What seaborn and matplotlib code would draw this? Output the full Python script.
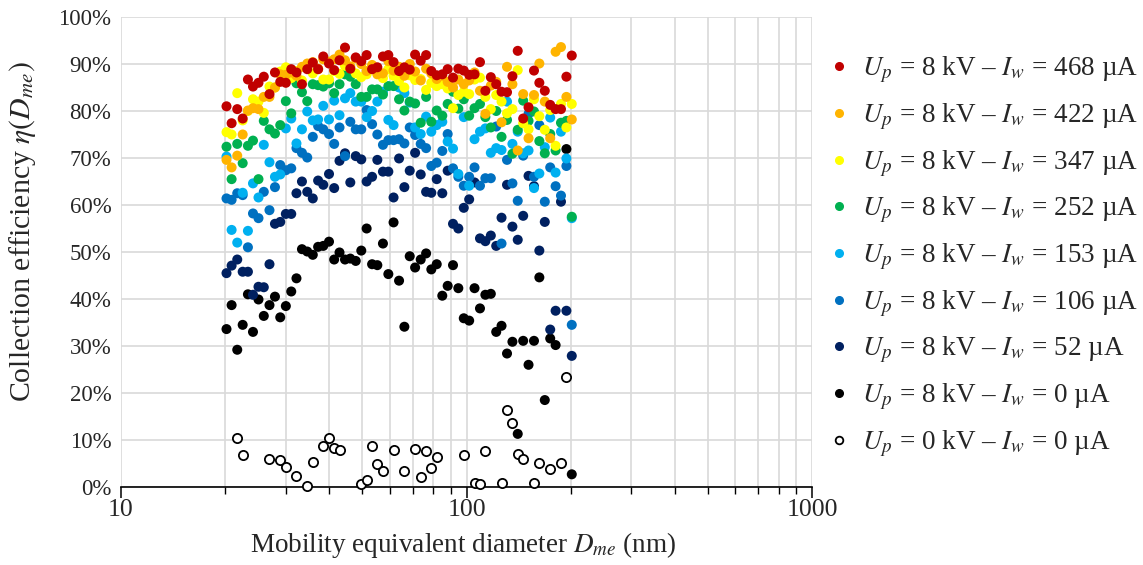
import numpy as np
import pandas as pd
import seaborn as sns
import matplotlib
matplotlib.use("Agg")
import matplotlib.pyplot as plt
from matplotlib.lines import Line2D
from matplotlib.ticker import LogLocator, NullFormatter, FixedLocator, FixedFormatter

nan = np.nan

# Mobility equivalent diameter bins (nm)
diameters = [20.2, 20.9, 21.7, 22.5, 23.3, 24.1, 25.0, 25.9, 26.9, 27.9, 28.9, 30.0, 31.1, 32.2, 33.4,
             34.6, 35.9, 37.2, 38.5, 40.0, 41.4, 42.9, 44.5, 46.1, 47.8, 49.6, 51.4, 53.3, 55.2, 57.3,
             59.4, 61.5, 63.8, 66.1, 68.5, 71.0, 73.7, 76.4, 79.1, 82.0, 85.1, 88.2, 91.4, 94.7, 98.2,
             101.8, 105.5, 109.4, 113.4, 117.6, 121.9, 126.3, 131.0, 135.8, 140.7, 145.9, 151.2, 156.8,
             162.5, 168.5, 174.7, 181.1, 187.7, 194.6, 201.7]

eta_468 = [81.0, 77.4, 80.4, 78.4, 86.7, 85.2, 86.0, 87.3, 83.6, 88.2, 86.2, 86.0, 88.9, 88.2, 85.7, 88.9, 90.3, 88.9, 91.6,
           90.1, 88.7, 90.8, 93.5, 89.0, 91.4, 90.6, 91.9, 88.9, 89.3, 91.6, 91.9, 90.4, 88.5, 89.3, 88.8, 92.0, 90.7, 91.9, 88.5, 87.6, 87.8, 88.9, 87.1, 89.0,
           88.6, 87.7, 87.8, 90.4, 84.3, 87.2, 85.7, 84.1, 84.0, 87.4, 92.8, 78.4, 80.8, 88.6, 86.0, 84.3, 81.3, 80.4, 80.4, 87.3, 91.8]
eta_422 = [69.6, 68.0, 70.5, 75.0, 80.1, 80.6, 80.4, 83.0, 83.0, 85.0, 87.8, 87.7, 88.2, 87.5, 89.4, 90.1, 90.4, 89.0, 91.0,
           90.5, 91.0, 92.0, 90.8, 89.5, 91.2, 90.0, 88.5, 89.8, 87.8, 88.0, 90.6, 88.6, 89.4, 87.5, 90.0, 88.4, 86.5, 89.0, 88.0, 86.8, 87.5, 86.2, 85.0, 86.7,
           85.7, 86.5, 88.2, 84.3, 79.4, 85.4, 86.2, 77.6, 89.4, 85.7, 71.6, 83.6, 74.2, 83.4, 90.1, 82.0, 74.2, 92.6, 93.6, 83.0, 78.2]
eta_347 = [75.5, 75.0, 83.8, 78.0, 80.0, 82.5, 82.0, 79.6, 85.2, 85.0, 88.4, 89.3, 87.0, 88.5, 86.5, 89.5, 88.0, 88.9, 86.7,
           86.7, 88.5, 87.9, 89.6, 89.1, 88.0, 87.2, 87.8, 89.4, 88.6, 87.0, 88.9, 87.5, 86.4, 85.0, 87.6, 86.6, 86.8, 84.5, 86.0, 85.3, 85.7, 84.8, 80.6, 83.4,
           84.1, 83.6, 86.7, 87.1, 83.0, 80.4, 83.4, 82.0, 79.5, 80.4, 88.7, 77.4, 76.1, 82.5, 78.9, 76.0, 80.2, 72.6, 81.5, 76.5, 81.5]
eta_252 = [72.4, 65.5, 73.0, 68.9, 72.6, 73.7, 65.5, 77.9, 76.1, 75.2, 77.0, 82.1, 79.5, 85.9, 84.0, 82.1, 85.7, 85.5, 85.2,
           85.9, 83.8, 85.7, 87.8, 87.3, 85.7, 83.0, 83.0, 84.6, 84.6, 83.5, 85.3, 85.3, 82.5, 80.1, 82.0, 81.6, 77.5, 83.0, 77.7, 80.1, 79.0, 81.5, 84.1, 80.5,
           82.5, 79.0, 80.6, 81.5, 78.7, 76.5, 80.0, 74.5, 78.1, 70.9, 76.0, 82.2, 77.9, 79.9, 73.6, 71.0, 75.1, 71.6, 77.5, 77.9, 57.5]
eta_153 = [70.3, 54.7, 52.0, 62.6, 54.5, 64.6, 61.6, 72.8, 69.1, 66.0, 66.5, 76.3, 78.4, 73.1, 76.1, 79.9, 78.0, 78.2, 81.1,
           78.2, 82.2, 79.1, 82.7, 83.8, 82.0, 82.0, 78.7, 80.0, 82.0, 84.1, 78.1, 77.0, 85.0, 83.8, 81.8, 76.5, 75.1, 78.8, 75.6, 77.0, 77.7, 73.5, 72.0, 66.6,
           78.7, 64.1, 74.0, 75.6, 76.3, 71.1, 72.1, 71.7, 82.0, 73.0, 75.6, 71.0, 71.6, 63.6, 66.7, 72.3, 78.6, 66.9, 75.6, 69.9, 57.2]
eta_106 = [61.4, 61.1, 62.5, 62.1, 51.0, 58.2, 57.2, 62.8, 58.9, 63.8, 68.5, 67.4, 67.8, 72.1, 71.1, 70.1, 74.5, 76.8, 76.1,
           75.1, 73.0, 76.5, 70.4, 77.7, 76.1, 76.1, 80.2, 77.2, 75.0, 72.8, 73.8, 73.8, 74.0, 73.1, 76.5, 74.9, 73.0, 72.1, 68.3, 69.0, 71.5, 75.1, 67.8, 66.0,
           64.1, 66.0, 68.0, 64.1, 65.7, 65.7, 76.7, 51.8, 69.6, 64.6, 60.9, 70.5, 79.4, 66.0, 77.0, 60.7, 68.0, 64.0, 62.0, 68.3, 34.5]
eta_52 = [45.5, 47.1, 48.4, 45.8, 45.8, 40.9, 42.6, 42.5, 47.4, 56.0, 56.4, 58.1, 58.1, 62.5, 65.0, 62.8, 61.4, 65.2, 64.3,
          66.6, 63.6, 69.4, 71.0, 64.8, 70.4, 69.7, 65.0, 66.0, 69.6, 67.1, 67.1, 61.6, 69.9, 63.8, 67.3, 71.1, 66.5, 62.8, 62.6, 65.5, 62.5, 67.3, 56.0, 55.0,
          59.4, 61.2, 64.8, 52.9, 52.3, 53.5, 51.3, 57.3, 64.3, 55.4, 52.6, 57.7, 66.2, 64.0, 50.3, 56.4, 33.5, 37.5, 60.7, 37.5, 27.9]
eta_0 = [33.6, 38.7, 29.2, 34.5, 41.0, 33.0, 39.9, 36.4, 38.7, 40.5, 36.1, 38.5, 41.6, 44.4, 50.6, 50.1, 49.4, 51.1, 51.3,
         52.2, 48.4, 49.9, 48.4, 48.6, 48.1, 50.3, 55.0, 47.4, 47.2, 51.8, 45.3, 56.3, 43.9, 34.1, 49.1, 46.7, 48.4, 49.7, 46.3, 47.4, 40.7, 42.8, 47.2, 42.3,
         35.9, 35.4, 42.3, 38.0, 40.9, 41.1, 33.0, 34.3, 28.4, 30.9, 11.3, 31.1, 26.0, 31.1, 44.6, 18.5, 31.6, 30.2, nan, 71.9, 2.7]
eta_off = [nan, nan, 10.4, 6.8, nan, nan, nan, nan, 5.9, nan, 5.7, 4.3, nan, 2.4, nan, 0.3, 5.4, nan, 8.7,
           10.4, 8.2, 7.9, nan, nan, nan, 0.6, 1.5, 8.8, 4.8, 3.4, nan, 7.9, nan, 3.5, nan, 8.0, 2.2, 7.7, 4.0, 6.3, nan, nan, nan, nan,
           6.8, nan, 0.9, 0.6, 7.7, nan, nan, 0.9, 16.4, 13.7, 7.0, 5.9, nan, 0.8, 5.2, nan, 3.8, nan, 5.2, 23.3, nan]

labels = [r"$U_p$ = 8 kV – $I_w$ = 468 µA",
          r"$U_p$ = 8 kV – $I_w$ = 422 µA",
          r"$U_p$ = 8 kV – $I_w$ = 347 µA",
          r"$U_p$ = 8 kV – $I_w$ = 252 µA",
          r"$U_p$ = 8 kV – $I_w$ = 153 µA",
          r"$U_p$ = 8 kV – $I_w$ = 106 µA",
          r"$U_p$ = 8 kV – $I_w$ = 52 µA",
          r"$U_p$ = 8 kV – $I_w$ = 0 µA",
          r"$U_p$ = 0 kV – $I_w$ = 0 µA"]
colors = ["#C00000", "#FFB400", "#FFFF00", "#00B050", "#00B0F0", "#0070C0", "#002060", "#000000"]
filled_series = [eta_468, eta_422, eta_347, eta_252, eta_153, eta_106, eta_52, eta_0]

sns.set_theme(style="white")
plt.rcParams['font.family'] = ['Liberation Serif', 'DejaVu Serif']
plt.rcParams['mathtext.fontset'] = 'stix'

W, H = 1143, 565
fig = plt.figure(figsize=(W / 100, H / 100), dpi=100)
ax = fig.add_axes([121 / W, 1 - 487 / H, (812 - 121) / W, (487 - 17) / H])

# long table, drawn from lowest current to highest (highest on top)
frames = []
for lab, vals in zip(labels[:8][::-1], filled_series[::-1]):
    frames.append(pd.DataFrame({"D": diameters, "eta": vals, "series": lab}))
df = pd.concat(frames, ignore_index=True).dropna()

palette = dict(zip(labels[:8], colors))

sns.scatterplot(x=diameters, y=eta_off, ax=ax, s=44, facecolor="white",
                edgecolor="black", linewidth=1.3, legend=False, clip_on=False, zorder=3)
sns.scatterplot(data=df, x="D", y="eta", hue="series", palette=palette,
                hue_order=labels[:8][::-1], s=52, linewidth=0, legend=False,
                ax=ax, clip_on=False, zorder=4)

ax.set_xscale("log")
ax.set_xlim(10, 1000)
ax.set_ylim(0, 100)
ax.xaxis.set_major_locator(FixedLocator([10, 100, 1000]))
ax.xaxis.set_major_formatter(FixedFormatter(["10", "100", "1000"]))
ax.xaxis.set_minor_locator(LogLocator(base=10, subs=np.arange(2, 10)))
ax.xaxis.set_minor_formatter(NullFormatter())
yt = list(range(0, 101, 10))
ax.set_yticks(yt)
ax.set_yticklabels([f"{v}%" for v in yt])

ax.set_axisbelow(True)
ax.grid(True, which="major", axis="both", color="#D9D9D9", linewidth=1.2)
ax.grid(True, which="minor", axis="x", color="#D9D9D9", linewidth=1.2)

for s in ["left", "top", "right"]:
    ax.spines[s].set_visible(False)
ax.spines["bottom"].set_color("black")
ax.spines["bottom"].set_linewidth(1.2)
ax.spines["bottom"].set_zorder(2)

ax.tick_params(axis="x", which="major", direction="out", length=8, width=1.1, color="black",
               labelsize=18.5, pad=1, bottom=True)
ax.tick_params(axis="x", which="minor", direction="out", length=5, width=1.0, color="black", bottom=True)
ax.tick_params(axis="y", which="both", length=0, labelsize=16.5, pad=7)

ax.set_xlabel(r"Mobility equivalent diameter $D_{me}$ (nm)", fontsize=19.5)
ax.xaxis.label.set_va("center")
ax.xaxis.set_label_coords((463 - 121) / 691, (487 - 545) / 470)
ax.set_ylabel(r"Collection efficiency $\eta(D_{me})$", fontsize=21.5)
ax.yaxis.label.set_va("center")
ax.yaxis.set_label_coords((23 - 121) / 691, (487 - 232) / 470)

handles = []
for c in colors:
    handles.append(Line2D([], [], marker="o", linestyle="", markersize=5.5,
                          markerfacecolor=c, markeredgecolor=c))
handles.append(Line2D([], [], marker="o", linestyle="", markersize=5.5,
                      markerfacecolor="white", markeredgecolor="black", markeredgewidth=1.3))

fig.legend(handles, labels, loc="upper left", bbox_to_anchor=(828 / W, 1 - 55 / H),
           frameon=False, fontsize=19.5, handlelength=0.8, handletextpad=0.45,
           labelspacing=0.6, borderpad=0, borderaxespad=0)

fig.savefig("out.png", dpi=100)
